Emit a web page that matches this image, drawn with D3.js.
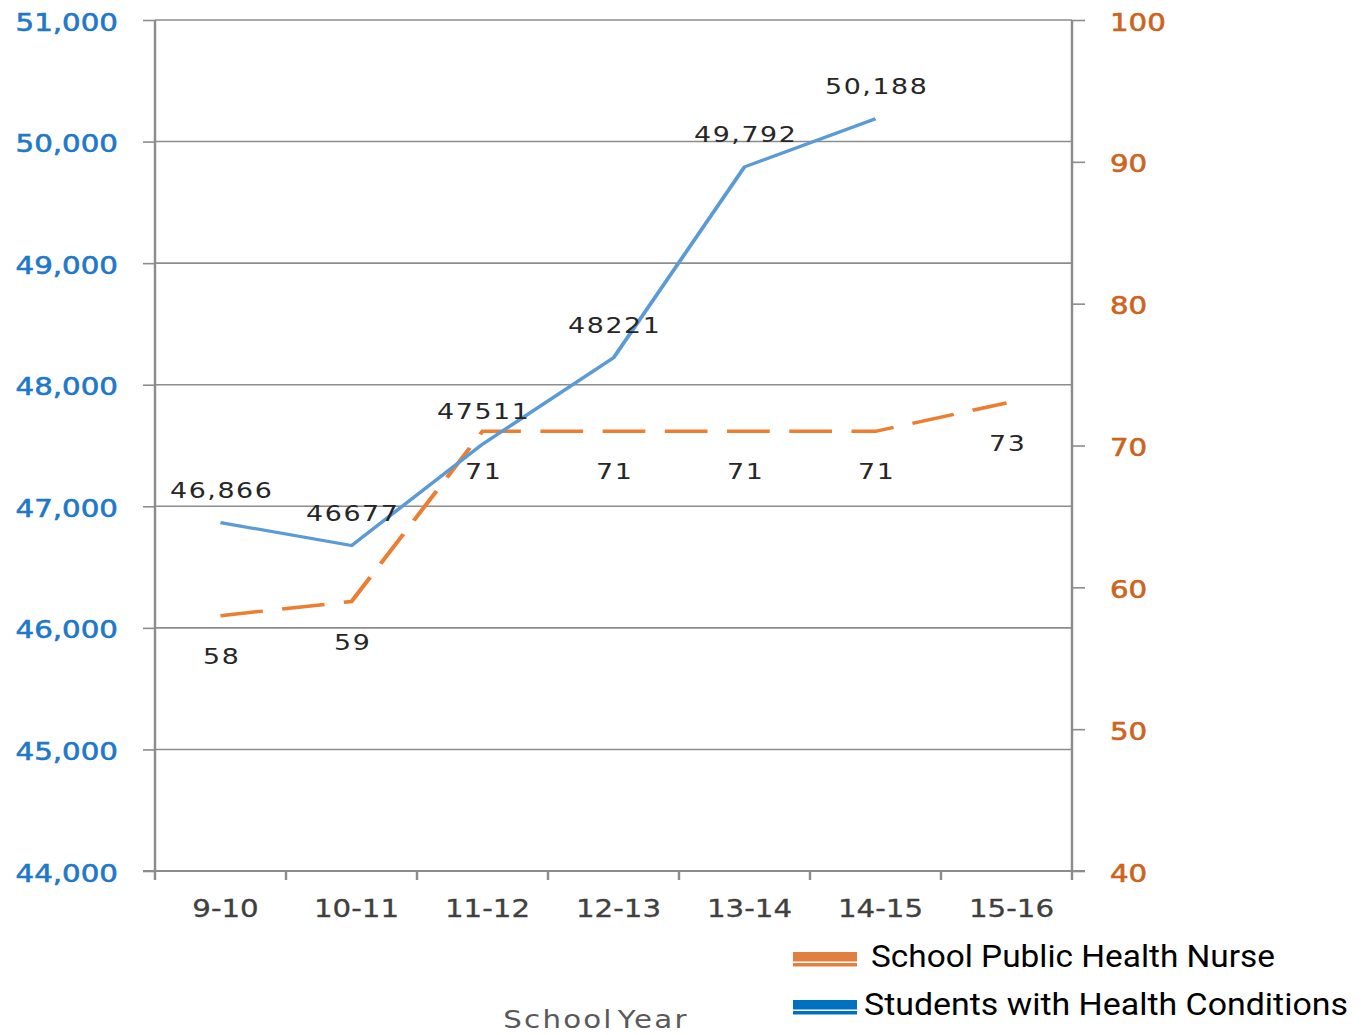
<!DOCTYPE html>
<html>
<head>
<meta charset="utf-8">
<script src="https://cdn.jsdelivr.net/npm/d3@7"></script>
<style>
  body { margin: 0; background: #fff; }
  #chart { position: relative; width: 1361px; height: 1035px; }
  svg { display: block; position: absolute; left: 0; top: 0; }
</style>
</head>
<body>
<div id="chart"></div>
<script>
// the data
const years = ['9-10', '10-11', '11-12', '12-13', '13-14', '14-15', '15-16']
const students = [46866, 46677, 47511, 48221, 49792, 50188]
const studentComma = [true, false, false, false, true, true]
const nurses = [58, 59, 71, 71, 71, 71, 73]
const leftTicks = [44000, 45000, 46000, 47000, 48000, 49000, 50000, 51000]
const rightTicks = [40, 50, 60, 70, 80, 90, 100]

// the picture looks stretched sideways, so draw in a narrower box and stretch it
const sx = 1.22
const px = (v) => v / sx

const dimensions = {
  width: 1361,
  height: 1035,
  left: px(155),
  right: px(1072),
  top: 20,
  bottom: 871,
}

const svg = d3
  .select('#chart')
  .append('svg')
  .attr('width', dimensions.width)
  .attr('height', dimensions.height)
  .attr('viewBox', `0 0 ${dimensions.width / sx} ${dimensions.height}`)
  .attr('preserveAspectRatio', 'none')

const gridColor = '#8c8c8c'

// scales
const xScale = d3
  .scaleBand()
  .domain(years)
  .range([dimensions.left, dimensions.right])
const xMid = (d) => xScale(d) + xScale.bandwidth() / 2

const yLeft = d3
  .scaleLinear()
  .domain([44000, 51000])
  .range([dimensions.bottom, dimensions.top])

const yRight = d3
  .scaleLinear()
  .domain([40, 100])
  .range([dimensions.bottom, dimensions.top])

// gridlines
svg
  .append('g')
  .selectAll('line')
  .data(leftTicks.filter((d) => d > 44000))
  .join('line')
  .attr('x1', dimensions.left)
  .attr('x2', dimensions.right)
  .attr('y1', (d) => yLeft(d))
  .attr('y2', (d) => yLeft(d))
  .attr('stroke', gridColor)
  .attr('stroke-width', 1.6)

// left axis
const leftAxis = d3
  .axisLeft(yLeft)
  .tickValues(leftTicks)
  .tickSize(px(12))
  .tickSizeOuter(0)
  .tickPadding(px(25))
  .tickFormat(d3.format(','))

const leftGroup = svg
  .append('g')
  .attr('transform', `translate(${dimensions.left},0)`)
  .call(leftAxis)
leftGroup.select('.domain').remove()
leftGroup.selectAll('.tick line').attr('stroke', gridColor).attr('stroke-width', 1.6)
leftGroup
  .selectAll('.tick text')
  .attr('dy', '0.42em')
  .attr('fill', '#1f78c8')
  .attr('stroke', '#1f78c8')
  .attr('stroke-width', 0.6)
  .style('font-family', 'DejaVu Sans, Verdana, sans-serif')
  .style('font-size', '24px')

// right axis
const rightAxis = d3
  .axisRight(yRight)
  .tickValues(rightTicks)
  .tickSize(px(13))
  .tickSizeOuter(0)
  .tickPadding(px(25))

const rightGroup = svg
  .append('g')
  .attr('transform', `translate(${dimensions.right},0)`)
  .call(rightAxis)
rightGroup.select('.domain').remove()
rightGroup.selectAll('.tick line').attr('stroke', gridColor).attr('stroke-width', 1.6)
rightGroup
  .selectAll('.tick text')
  .attr('dy', '0.42em')
  .attr('fill', '#cc6420')
  .attr('stroke', '#cc6420')
  .attr('stroke-width', 0.6)
  .style('font-family', 'DejaVu Sans, Verdana, sans-serif')
  .style('font-size', '24px')

// the vertical axis lines
svg
  .append('g')
  .selectAll('line')
  .data([dimensions.left, dimensions.right])
  .join('line')
  .attr('x1', (d) => d)
  .attr('x2', (d) => d)
  .attr('y1', dimensions.top)
  .attr('y2', dimensions.bottom + 9)
  .attr('stroke', gridColor)
  .attr('stroke-width', 2)

// bottom axis: line, ticks on the band edges, labels in the middle
svg
  .append('line')
  .attr('x1', dimensions.left - px(12))
  .attr('x2', dimensions.right + px(13))
  .attr('y1', dimensions.bottom)
  .attr('y2', dimensions.bottom)
  .attr('stroke', gridColor)
  .attr('stroke-width', 2)

svg
  .append('g')
  .selectAll('line')
  .data(years.slice(1))
  .join('line')
  .attr('x1', (d) => xScale(d))
  .attr('x2', (d) => xScale(d))
  .attr('y1', dimensions.bottom)
  .attr('y2', dimensions.bottom + 9)
  .attr('stroke', gridColor)
  .attr('stroke-width', 2)

const bottomAxis = d3.axisBottom(xScale).tickSize(0).tickSizeOuter(0).tickPadding(0)
const bottomGroup = svg
  .append('g')
  .attr('transform', `translate(${px(5)},${dimensions.bottom})`)
  .call(bottomAxis)
bottomGroup.select('.domain').remove()
bottomGroup
  .selectAll('.tick text')
  .attr('dy', null)
  .attr('y', 46)
  .attr('fill', '#404040')
  .attr('stroke', '#404040')
  .attr('stroke-width', 0.3)
  .style('font-family', 'DejaVu Sans, Verdana, sans-serif')
  .style('font-size', '24px')

// axis title
svg
  .append('text')
  .attr('x', px(596))
  .attr('y', 1028)
  .attr('text-anchor', 'middle')
  .attr('fill', '#595959')
  .style('font-family', 'DejaVu Sans, Verdana, sans-serif')
  .style('font-size', '24px')
  .style('letter-spacing', '1.8px')
  .style('word-spacing', '-6px')
  .text('School Year')

// orange dashed line (right axis)
const nurseLine = d3
  .line()
  .x((d, i) => xMid(years[i]))
  .y((d) => yRight(d))

svg
  .append('path')
  .datum(nurses)
  .attr('d', nurseLine)
  .attr('fill', 'none')
  .attr('stroke', '#ed7d31')
  .attr('stroke-width', 3.5)
  .attr('stroke-dasharray', '35 16')

// blue line (left axis)
const studentLine = d3
  .line()
  .x((d, i) => xMid(years[i]))
  .y((d) => yLeft(d))

svg
  .append('path')
  .datum(students)
  .attr('d', studentLine)
  .attr('fill', 'none')
  .attr('stroke', '#5b9bd5')
  .attr('stroke-width', 3.2)
  .attr('stroke-linejoin', 'round')

// data labels
const labelStyle = (sel) =>
  sel
    .attr('text-anchor', 'middle')
    .attr('fill', '#262626')
    .style('font-family', 'DejaVu Sans, Verdana, sans-serif')
    .style('font-size', '22px')
    .style('letter-spacing', '1.3px')

svg
  .append('g')
  .selectAll('text')
  .data(students)
  .join('text')
  .attr('x', (d, i) => xMid(years[i]) + 1)
  .attr('y', (d) => yLeft(d) - 25)
  .text((d, i) => (studentComma[i] ? d3.format(',')(d) : d))
  .call(labelStyle)

svg
  .append('g')
  .selectAll('text')
  .data(nurses)
  .join('text')
  .attr('x', (d, i) => xMid(years[i]) + 1)
  .attr('y', (d) => yRight(d) + 48)
  .text((d) => d)
  .call(labelStyle)

// legend, in its own unstretched layer
const legendSvg = d3
  .select('#chart')
  .append('svg')
  .attr('width', dimensions.width)
  .attr('height', dimensions.height)

const legend = [
  { name: 'School Public Health Nurse', color: '#e07f3f', y: 952, textX: 871, textW: 404 },
  { name: 'Students with Health Conditions', color: '#0070c0', y: 1000, textX: 864, textW: 484 },
]

const legendItems = legendSvg
  .append('g')
  .selectAll('g')
  .data(legend)
  .join('g')

legendItems
  .append('rect')
  .attr('x', 793)
  .attr('y', (d) => d.y)
  .attr('width', 64)
  .attr('height', 9.5)
  .attr('fill', (d) => d.color)

legendItems
  .append('rect')
  .attr('x', 793)
  .attr('y', (d) => d.y + 11)
  .attr('width', 64)
  .attr('height', 3.5)
  .attr('fill', (d) => d.color)

legendItems
  .append('text')
  .attr('x', (d) => d.textX)
  .attr('y', (d) => d.y + 15)
  .attr('textLength', (d) => d.textW)
  .attr('lengthAdjust', 'spacingAndGlyphs')
  .attr('fill', '#000')
  .style('font-family', 'Roboto, sans-serif')
  .style('font-size', '31px')
  .text((d) => d.name)
</script>
</body>
</html>
